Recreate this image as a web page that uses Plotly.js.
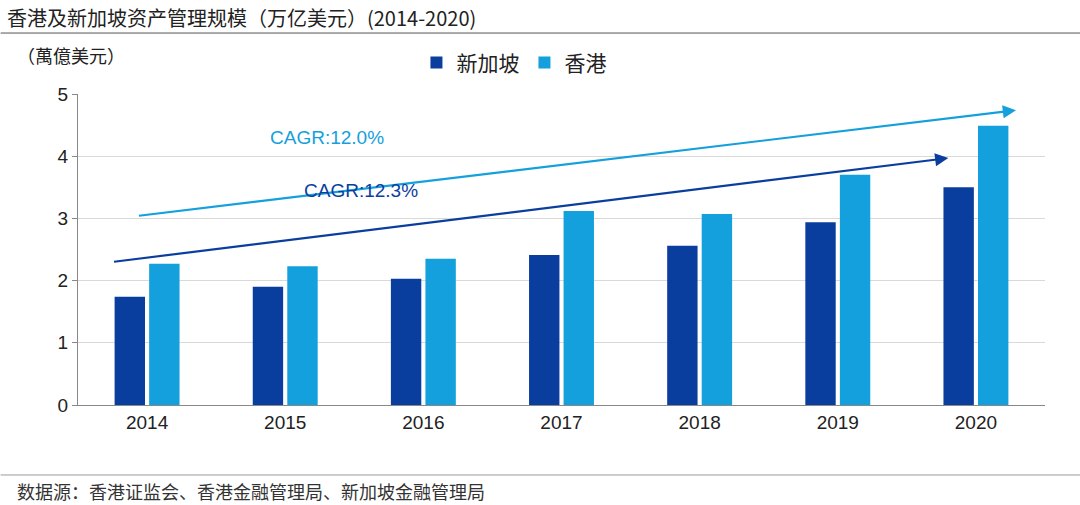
<!DOCTYPE html>
<html><head><meta charset="utf-8">
<script src="https://cdn.plot.ly/plotly-3.0.1.min.js"></script>
<style>body{margin:0;background:#fff}</style></head>
<body><div id="chart" style="width:1080px;height:505px"></div>
<script>
var years = ['2014','2015','2016','2017','2018','2019','2020'];
var singapore = [1.74, 1.90, 2.03, 2.41, 2.56, 2.94, 3.50];
var hongkong = [2.27, 2.23, 2.35, 3.12, 3.07, 3.70, 4.49];
var cjk = '"Noto Sans CJK SC", sans-serif';

var traces = [
  {type:'bar', name:'新加坡', x:years, y:singapore, marker:{color:'#0a3e9e'}},
  {type:'bar', name:'香港', x:years, y:hongkong, marker:{color:'#14a0dc'}}
];

var layout = {
  width:1080, height:505,
  margin:{l:78, r:35, t:94, b:100},
  paper_bgcolor:'#fff', plot_bgcolor:'#fff',
  barmode:'group', bargap:0.5, bargroupgap:0.12,
  font:{family:'Arial, "Liberation Sans", sans-serif', size:18, color:'#222'},
  xaxis:{type:'category', showline:true, linecolor:'#888', ticks:'outside', tickcolor:'#888', ticklen:0,
         tickfont:{size:19}, fixedrange:true},
  yaxis:{range:[0,5], dtick:1, showgrid:true, gridcolor:'#d9d9d9', showline:true,
         linecolor:'#888', ticks:'outside', tickcolor:'#888', ticklen:5, zeroline:false,
         tickfont:{size:19}},
  legend:{orientation:'h', x:0.35, y:1.10, xanchor:'left', yanchor:'middle',
          font:{family:cjk, size:21}, itemwidth:30},
  shapes:[
    {type:'line', xref:'paper', yref:'paper', x0:-0.08, x1:1.04, y0:1.196, y1:1.196,
     line:{color:'#555', width:1}},
    {type:'line', xref:'paper', yref:'paper', x0:-0.08, x1:1.04, y0:-0.225, y1:-0.225,
     line:{color:'#999', width:1}}
  ],
  annotations:[
    {text:'香港及新加坡资产管理规模（万亿美元）(2014-2020)', xref:'paper', yref:'paper',
     x:-0.075, y:1.245, xanchor:'left', yanchor:'middle', showarrow:false,
     font:{family:cjk, size:20, color:'#222'}},
    {text:'（萬億美元）', xref:'paper', yref:'paper', x:-0.065, y:1.125,
     xanchor:'left', yanchor:'middle', showarrow:false, font:{family:cjk, size:18}},
    {text:'数据源：香港证监会、香港金融管理局、新加坡金融管理局', xref:'paper', yref:'paper',
     x:-0.065, y:-0.275, xanchor:'left', yanchor:'middle', showarrow:false,
     font:{family:cjk, size:18, color:'#333'}},
    {x:6.29, y:4.74, ax:-0.07, ay:3.04, xref:'x', yref:'y', axref:'x', ayref:'y',
     text:'', showarrow:true, arrowhead:2, arrowsize:1.2, arrowwidth:2.2, arrowcolor:'#14a0dc'},
    {x:5.80, y:3.97, ax:-0.25, ay:2.30, xref:'x', yref:'y', axref:'x', ayref:'y',
     text:'', showarrow:true, arrowhead:2, arrowsize:1.2, arrowwidth:2.2, arrowcolor:'#0a3e9e'},
    {text:'CAGR:12.0%', x:1.3, y:4.3, xref:'x', yref:'y', showarrow:false,
     font:{size:19, color:'#14a0dc'}},
    {text:'CAGR:12.3%', x:1.55, y:3.45, xref:'x', yref:'y', showarrow:false,
     font:{size:19, color:'#0a3e9e'}}
  ]
};
Plotly.newPlot('chart', traces, layout, {displayModeBar:false, staticPlot:true});
</script></body></html>
